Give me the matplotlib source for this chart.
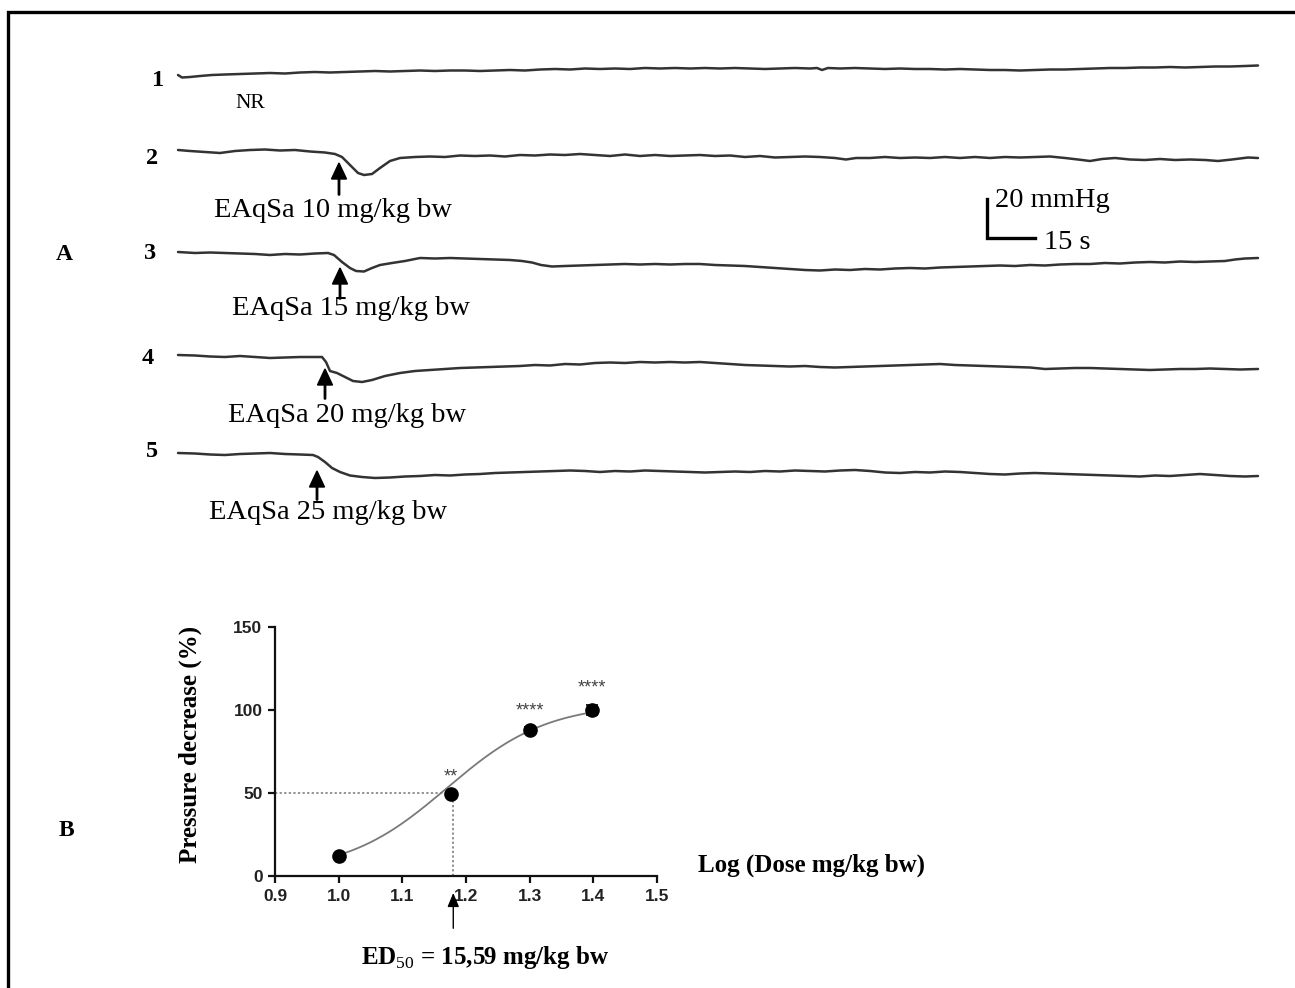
import numpy as np
import matplotlib
matplotlib.use("Agg")
import matplotlib.pyplot as plt

plt.rcParams['mathtext.fontset'] = 'custom'
plt.rcParams['mathtext.rm'] = 'Liberation Serif'
plt.rcParams['mathtext.bf'] = 'Liberation Serif:bold'

SERIF = 'Liberation Serif'
SANS = 'Liberation Sans'

# ---------------- Panel A data: blood-pressure recordings ----------------
trace_ids = ['1', '2', '3', '4', '5']
trace_notes = ['NR', 'EAqSa 10 mg/kg bw', 'EAqSa 15 mg/kg bw',
               'EAqSa 20 mg/kg bw', 'EAqSa 25 mg/kg bw']

trace1 = [(178,75),(182,77.5),(190,77),(200,76),(212,75),(225,74.5),(240,74),(255,73.5),(270,73),(285,73.5),
          (300,72.5),(315,72),(330,72.5),(345,72),(360,71.5),(375,71),(390,71.5),(405,71),(420,70.5),(435,71),
          (450,70.5),(465,70.5),(480,71),(495,70.5),(510,70),(525,70.5),(540,69.5),(555,69),(570,69.5),(585,68.5),
          (600,69),(615,68.5),(630,69),(645,68),(660,68.5),(675,68),(690,68.5),(705,68),(720,68.5),(735,68),
          (750,68.5),(765,69),(780,68.5),(795,68),(810,68.5),(817,68),(822,70),(828,68),(840,68.5),(855,68),
          (870,68.5),(885,69),(900,68.5),(915,69),(930,69),(945,69.5),(960,69),(975,69.5),(990,70),(1005,70),
          (1020,70.5),(1035,70),(1050,69.5),(1065,69.5),(1080,69),(1095,68.5),(1110,68),(1125,68),(1140,67.5),
          (1155,67.5),(1170,67),(1185,67.5),(1200,67),(1215,66.5),(1230,66.5),(1245,66),(1258,65.5)]

trace2 = [(178,150),(190,151),(205,152),(220,153),(235,151),(250,150),(265,149.5),(280,150.5),(295,150),
          (310,151.5),(325,152.5),(335,154),(342,157),(350,165),(358,173),(364,175),(372,174),(380,168),
          (390,161),(400,158),(415,157),(430,156.5),(445,157),(460,155.5),(475,156),(490,155.5),(505,156.5),
          (520,155),(535,155.5),(550,154.5),(565,155),(580,154),(595,155),(610,156),(625,154.5),(640,156),
          (655,155),(670,156),(685,155.5),(700,155),(715,156),(730,155.5),(745,157),(760,156),(775,157.5),
          (790,157),(805,156.5),(820,157),(835,158),(846,159.5),(856,158),(870,158),(885,157),(900,158),
          (915,157.5),(930,158),(945,157),(960,158),(975,157),(990,158),(1005,157),(1020,157.5),(1035,157),
          (1050,156.5),(1065,158),(1078,159.5),(1090,161),(1102,159),(1115,158),(1130,159.5),(1145,160),
          (1160,159),(1175,160),(1190,159.5),(1205,160),(1218,161),(1232,159.5),(1248,157.5),(1258,158)]

trace3 = [(178,252),(195,253),(210,252.5),(225,253),(240,253.5),(255,254),(270,255),(285,254),(300,254.5),
          (315,253.5),(328,253),(334,255),(342,262),(350,268),(356,271),(364,271.5),(372,268),(380,265),
          (392,263),(405,261),(420,258),(435,258.5),(450,258),(465,258.5),(480,259),(495,259.5),(510,260),
          (522,261),(532,262.5),(541,265),(552,266.5),(565,266),(580,265.5),(595,265),(610,264.5),(625,264),
          (640,264.5),(655,264),(670,264.5),(685,264),(700,264),(715,265),(730,265.5),(745,266),(760,267),
          (775,268),(790,269),(805,270),(820,270.5),(835,269.5),(850,270),(865,269),(880,269.5),(895,268.5),
          (910,268),(925,268.5),(940,267.5),(955,267),(970,266.5),(985,266),(1000,265.5),(1015,266),(1030,265),
          (1045,265.5),(1060,264.5),(1075,264),(1090,264),(1105,263),(1120,263.5),(1135,262.5),(1150,262),
          (1165,262.5),(1180,261.5),(1195,262),(1210,261.5),(1225,261),(1235,259.5),(1245,258.5),(1258,258)]

trace4 = [(178,355),(195,355.5),(210,356.5),(225,357),(240,356),(255,357),(270,358),(285,357.5),(300,357),
          (315,357),(322,357),(326,362),(330,371),(337,373),(345,377),(353,381),(362,382),(372,380),(385,376),
          (400,373),(415,371),(430,370),(445,369),(460,368),(475,367.5),(490,367),(505,366.5),(520,366),
          (535,365),(550,365.5),(565,364),(580,364.5),(595,363),(610,362.5),(625,363),(640,362),(655,362.5),
          (670,362),(685,362.5),(700,362),(715,363),(730,364),(745,365),(760,365.5),(775,366),(790,366.5),
          (805,366),(820,367),(835,367.5),(850,367),(865,366.5),(880,366),(895,365.5),(910,365),(925,364.5),
          (940,364),(955,365),(970,365.5),(985,366),(1000,366.5),(1015,367),(1030,367.5),(1045,369),
          (1060,368.5),(1075,368),(1090,368),(1105,368.5),(1120,369),(1135,369.5),(1150,370),(1165,369.5),
          (1180,369),(1195,369),(1210,368.5),(1225,369),(1240,369.5),(1258,369)]

trace5 = [(178,453),(195,453.5),(210,454.5),(225,455),(240,454),(255,453.5),(270,453),(285,454),(300,454.5),
          (313,455),(318,457),(325,462),(332,468),(340,472),(350,475.5),(362,477),(375,478),(390,477.5),
          (405,476.5),(420,476),(435,475),(450,475.5),(465,474.5),(480,474),(495,473),(510,472.5),(525,472),
          (540,471.5),(555,471),(570,470.5),(585,471),(600,472),(615,471),(630,471.5),(645,470.5),(660,471),
          (675,471.5),(690,472),(705,472.5),(720,472),(735,471.5),(750,472),(765,471),(780,471.5),(795,470.5),
          (810,471),(825,471.5),(840,470.5),(855,470),(870,471),(885,472.5),(900,473),(915,472),(930,472.5),
          (945,471.5),(960,472),(975,473),(990,474),(1005,474.5),(1020,473.5),(1035,473),(1050,473.5),
          (1065,474),(1080,474.5),(1095,475),(1110,475.5),(1125,476),(1140,476.5),(1155,475.5),(1170,476),
          (1185,475),(1200,474),(1215,475),(1230,476),(1245,476.5),(1258,476)]

traces = [trace1, trace2, trace3, trace4, trace5]

# ---------------- Panel B data: dose-response ----------------
log_dose = [1.0, 1.176, 1.301, 1.398]
pressure_decrease = [12, 49.5, 88, 100]
sem = [0, 0, 1.5, 3]
significance = ['', '**', '****', '****']
x_ticks = [0.9, 1.0, 1.1, 1.2, 1.3, 1.4, 1.5]
y_ticks = [0, 50, 100, 150]
# fitted sigmoid (Hill) parameters
fit_bottom, fit_top, fit_logec50, fit_hill = 2.0, 104.0, 1.17, 5.5
ed50_log = 1.18
ed50_text = r"ED$_{\mathrm{50}}$ = 15,59 mg/kg bw"

# ======================================================================
W, H = 1295, 988
fig = plt.figure(figsize=(W / 100, H / 100), dpi=100)
fig.patch.set_facecolor('white')

ov = fig.add_axes([0, 0, 1, 1])
ov.set_xlim(0, W)
ov.set_ylim(H, 0)
ov.axis('off')
ov.patch.set_visible(False)

# frame (top and left borders)
ov.plot([8, 8, W], [H, 12, 12], color='black', lw=2.4, solid_joinstyle='miter')

trace_color = '#333333'
for tr in traces:
    xs, ys = zip(*tr)
    ov.plot(xs, ys, color=trace_color, lw=1.8, solid_capstyle='round', solid_joinstyle='round')

# trace numbers
num_pos = [(158, 80), (152, 158), (150, 253), (148, 358), (152, 451)]
for tid, (x, y) in zip(trace_ids, num_pos):
    ov.text(x, y, tid, fontsize=17.5, fontweight='bold', family=SERIF, ha='center', va='center')

ov.text(64, 254, 'A', fontsize=17, fontweight='bold', family=SERIF, ha='center', va='center')
ov.text(66, 830, 'B', fontsize=17, fontweight='bold', family=SERIF, ha='center', va='center')

# notes
ov.text(250, 104, trace_notes[0], fontsize=15.5, family=SERIF, ha='center', va='center')
arrows = [((339, 195), (339, 163)), ((340, 299), (340, 268)), ((325, 399), (325, 369)), ((317, 500), (317, 471))]
label_pos = [(333, 210), (351, 308), (347, 415), (328, 512)]
for (tail, tip), (lx, ly), note in zip(arrows, label_pos, trace_notes[1:]):
    ov.arrow(tail[0], tail[1], 0, tip[1] - tail[1], width=1.4, head_width=15, head_length=16,
             length_includes_head=True, color='black')
    ov.text(lx, ly, note, fontsize=20.5, family=SERIF, ha='center', va='center')

# scale bar
ov.plot([987, 987, 1035], [199, 238, 238], color='black', lw=2.4, solid_joinstyle='miter')
ov.text(995, 200, '20 mmHg', fontsize=20.5, family=SERIF, ha='left', va='center')
ov.text(1044, 242, '15 s', fontsize=20.5, family=SERIF, ha='left', va='center')

# ---------------- Panel B ----------------
left, right, top, bottom = 275, 657, 627, 876
axb = fig.add_axes([left / W, (H - bottom) / H, (right - left) / W, (bottom - top) / H])
axb.set_xlim(0.9, 1.5)
axb.set_ylim(0, 150)
axb.patch.set_visible(False)
for s in ['top', 'right']:
    axb.spines[s].set_visible(False)
for s in ['left', 'bottom']:
    axb.spines[s].set_linewidth(1.6)
    axb.spines[s].set_color('#111111')
axb.set_xticks(x_ticks)
axb.set_yticks(y_ticks)
axb.set_xticklabels([f"{v:.1f}" for v in x_ticks])
axb.set_yticklabels([str(v) for v in y_ticks])
axb.tick_params(direction='out', length=5, width=1.6, color='#111111', pad=4)
for lab in axb.get_xticklabels() + axb.get_yticklabels():
    lab.set_fontfamily(SANS)
    lab.set_fontweight('bold')
    lab.set_fontsize(12.5)
    lab.set_color('#222222')

xc = np.linspace(log_dose[0], log_dose[-1], 200)
yc = fit_bottom + (fit_top - fit_bottom) / (1 + 10 ** ((fit_logec50 - xc) * fit_hill))
axb.plot(xc, yc, color='#7a7a7a', lw=1.3, zorder=2)

axb.plot([0.9, ed50_log], [50, 50], color='#777777', lw=1.1, ls=(0, (1.5, 1.5)), zorder=1)
axb.plot([ed50_log, ed50_log], [0, 50], color='#777777', lw=1.1, ls=(0, (1.5, 1.5)), zorder=1)

axb.errorbar(log_dose, pressure_decrease, yerr=sem, fmt='o', color='black', ms=9.5,
             capsize=4, elinewidth=1.2, capthick=1.2, zorder=3, clip_on=False)

for x, y, e, s in zip(log_dose, pressure_decrease, sem, significance):
    if s:
        axb.annotate(s, xy=(x, y + e), xytext=(0, 12), textcoords='offset points',
                     ha='center', va='center', fontsize=13, color='#444444', family=SANS)

axb.set_ylabel('Pressure decrease (%)', fontsize=18, fontweight='bold', family=SERIF)
axb.yaxis.set_label_coords(-0.19, 0.53)

# ED50 arrow below the x axis
axb.annotate('', xy=(ed50_log, -0.068), xytext=(ed50_log, -0.21),
             xycoords=axb.get_xaxis_transform(), textcoords=axb.get_xaxis_transform(),
             arrowprops=dict(arrowstyle='-|>,head_length=0.6,head_width=0.25', color='black',
                             lw=1.0, mutation_scale=14, shrinkA=0, shrinkB=0), annotation_clip=False)

ov.text(812, 865, 'Log (Dose mg/kg bw)', fontsize=18, fontweight='bold', family=SERIF,
        ha='center', va='center')
ov.text(485, 957, ed50_text, fontsize=18, fontweight='bold', family=SERIF, ha='center', va='center')

fig.savefig('out.png', dpi=100, facecolor='white')
